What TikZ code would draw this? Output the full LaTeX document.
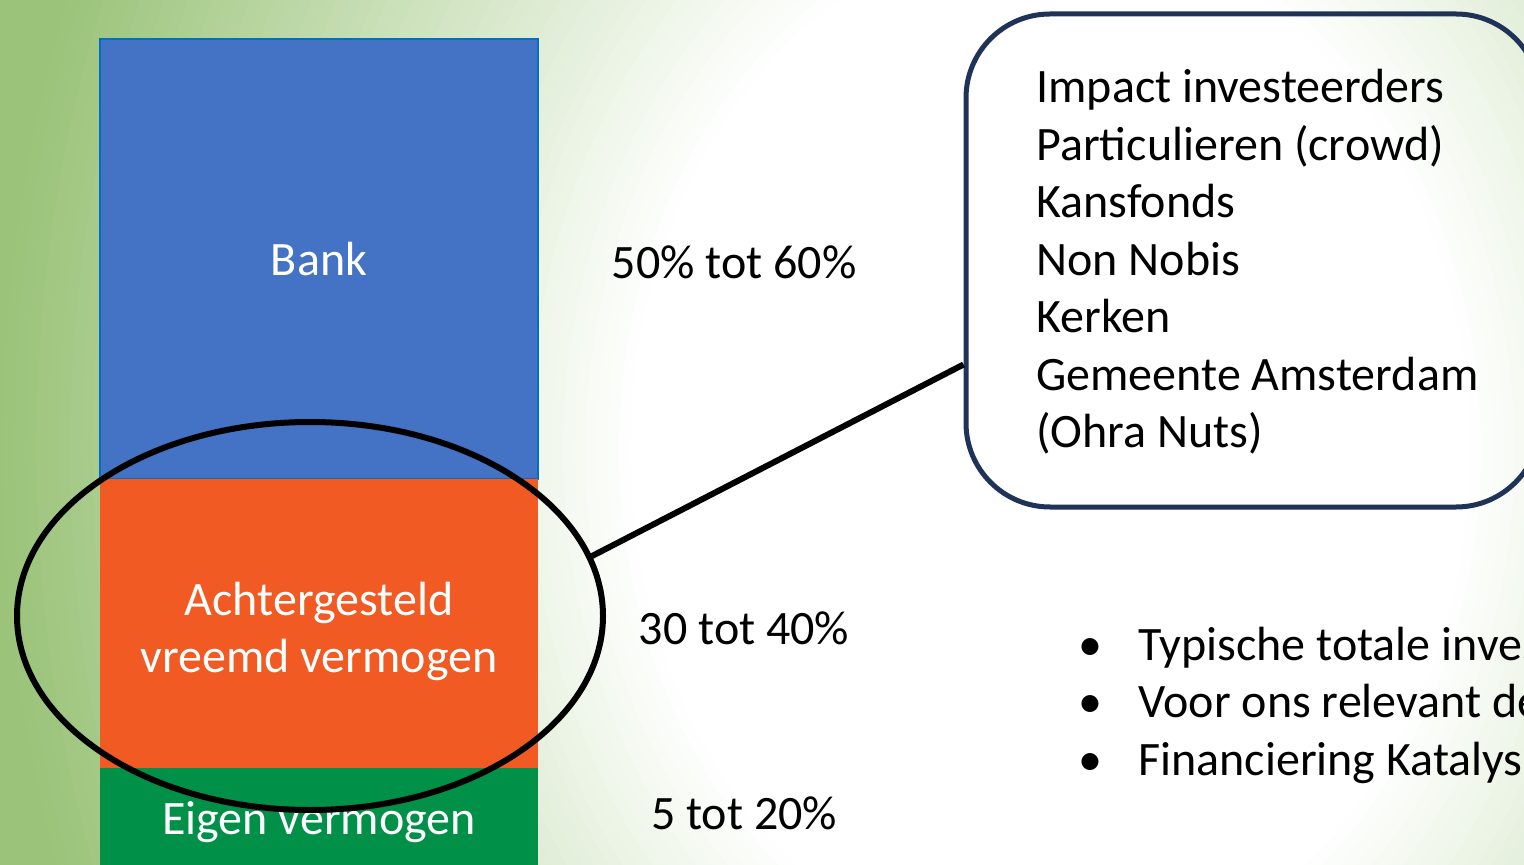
\documentclass[tikz,border=0pt]{standalone}
\usepackage{fontspec}
\setmainfont{Carlito}
\usetikzlibrary{shapes.geometric,positioning}

\definecolor{bggreen}{RGB}{155,196,122}
\definecolor{bankblue}{RGB}{68,114,196}
\definecolor{bankedge}{RGB}{0,112,192}
\definecolor{subred}{RGB}{241,90,34}
\definecolor{owngreen}{RGB}{0,144,72}
\definecolor{boxnavy}{RGB}{31,50,88}

\tikzset{
  bar/.style={minimum width=219pt, inner sep=0pt, text=white, align=center},
  share/.style={inner sep=0pt},
  fundline/.style={anchor=base west, inner sep=0pt},
}

\begin{document}
\begin{tikzpicture}[x=0.5pt, y=-0.5pt, font=\fontsize{24}{28.75}\selectfont]
  \useasboundingbox (0,0) rectangle (1524,865);

  % slide background, green fading to white
  \begin{scope}
    \clip (0,0) rectangle (1524,865);
    \fill[bggreen] (0,0) rectangle (1524,865);
    \foreach \k in {0,...,60}{
      \pgfmathsetmacro\sc{2.6-\k*0.02667}
      \pgfmathsetmacro\pct{max(0,min(100,(\sc-1)*66.67))}
      \fill[bggreen!\pct!white] (1050,450) ellipse [x radius=420*\sc, y radius=520*\sc];
    }
  \end{scope}

  % stacked bar
  \node[bar, fill=bankblue, draw=bankedge, line width=1pt, minimum height=220pt] (bank) at (319,259) {Bank};
  \node[bar, fill=subred, minimum height=152.5pt] (achter) at (319,631.5) {Achtergesteld\\vreemd vermogen};
  \node[bar, fill=owngreen, minimum height=54pt] (eigen) at (319,822) {Eigen vermogen};

  \node[share] (pctbank) at (734,262) {50\% tot 60\%};
  \node[share] (pctachter) at (744,628) {30 tot 40\%};
  \node[share] (pcteigen) at (744,813) {5 tot 20\%};

  % ring round the subordinated part
  \node[ellipse, draw=black, line width=3pt, inner sep=0pt,
        minimum width=293pt, minimum height=194pt] (ring) at (310,616) {};

  % investor box
  \node[draw=boxnavy, line width=2.5pt, rounded corners=42pt,
        minimum width=287pt, minimum height=246.5pt] (fund) at (1253,260.5) {};
  \foreach \txt [count=\i] in {Impact investeerders, Particulieren (crowd), Kansfonds,
      Non Nobis, Kerken, Gemeente Amsterdam, {(Ohra Nuts)}}{
    \node[fundline] (fund\i) at (1036,{103+57.5*(\i-1)}) {\txt};
  }

  \draw[line width=3pt] (ring.12.5) -- ([yshift=-52pt]fund.west);

  % remarks
  \foreach \txt [count=\i] in {Typische totale inves, Voor ons relevant de, Financiering Katalys}{
    \node[fundline] (dot\i) at (1078,{660+57.5*(\i-1)}) {•};
    \node[fundline] (remark\i) at (1138,{660+57.5*(\i-1)}) {\txt};
  }
\end{tikzpicture}
\end{document}
